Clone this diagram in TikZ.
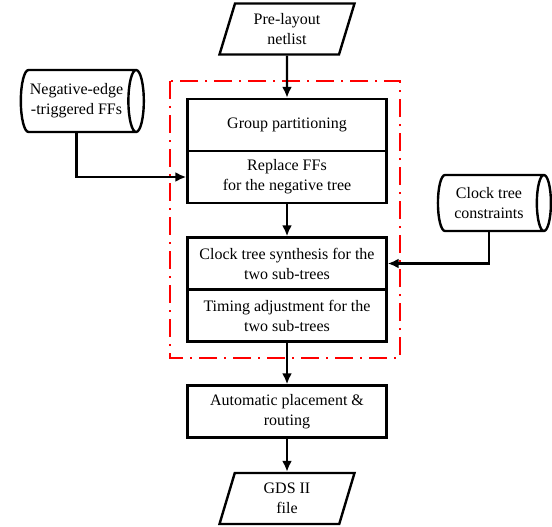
\documentclass[tikz,border=0pt]{standalone}
\usepackage{fontspec}
\setmainfont{Liberation Serif}
\usetikzlibrary{shapes.geometric,arrows.meta}
\begin{document}
\begin{tikzpicture}[x=1pt, y=-1pt, line width=2.4pt, >={Latex[length=11pt,width=10pt]},
  font=\fontsize{16}{20}\selectfont,
  proc/.style={draw, rectangle, minimum width=199pt, minimum height=52pt, align=center, inner sep=2pt},
  data/.style={draw, trapezium, trapezium left angle=65, trapezium right angle=115, trapezium stretches body, minimum width=135pt, minimum height=51pt, align=center, inner sep=1pt},
  store/.style={draw, cylinder, shape aspect=0.4, align=center, inner sep=2pt},
  frame/.style={red, line width=2.2pt, dash pattern=on 18pt off 7pt on 2pt off 7pt}]
\useasboundingbox (0,0) rectangle (552,527);
% main flow
\node[data] (net) at (287,29) {Pre-layout\\netlist};
\node[proc] (grp) at (287,125) {Group partitioning};
\node[proc] (rep) at (287,177) {Replace FFs\\for the negative tree};
\node[proc] (cts) at (287,263.5) {Clock tree synthesis for the\\two sub-trees};
\node[proc] (tim) at (287,315.5) {Timing adjustment for the\\two sub-trees};
\node[proc] (apr) at (287,411.5) {Automatic placement \&\\routing};
\node[data] (gds) at (287,498.5) {GDS II\\file};
% side inputs
\node[store, minimum height=123pt, minimum width=62pt] (neg) at (76.5,101) {Negative-edge\\-triggered FFs};
\node[store, minimum height=113pt, minimum width=56pt] (ctc) at (489,203) {Clock tree\\constraints};
% red frame
\draw[frame] (170,81) rectangle (400,358);
\draw[->] (net) -- (grp);
\draw[->] (rep) -- (cts);
\draw[->] (tim) -- (apr);
\draw[->] (apr) -- (gds);
\draw[->] (neg.south) |- (rep.west);
\draw[->] (ctc.south) |- (cts.east);
\end{tikzpicture}
\end{document}
